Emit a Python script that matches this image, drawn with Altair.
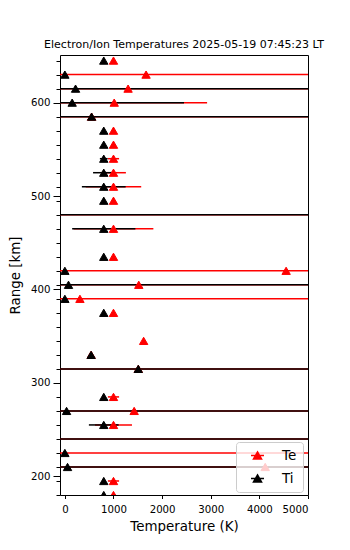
import altair as alt
import pandas as pd

# Range gates (km), top to bottom
ranges = [645, 630, 615, 600, 585, 570, 555, 540, 525, 510, 495, 480, 465, 450, 435, 420,
          405, 390, 375, 360, 345, 330, 315, 300, 285, 270, 255, 240, 225, 210, 195, 180]
# Electron temperature (K) and its error; off-chart values lie outside the x range
te = [1000, 1670, 1300, 1015, 550, 1000, 1000, 1000, 1000, 1000, 1000, 6000, 1000, None, 1000, 4550,
      1520, 310, 1000, None, 1620, 540, 1510, None, 1000, 1425, 1000, 6000, 6000, 4120, 1000, 1000]
te_err = [0, 12000, 12000, 1910, 12000, 0, 0, 115, 255, 570, 0, 12000, 820, None, 0, 12000,
          12000, 12000, 0, None, 0, 0, 12000, None, 115, 12000, 380, 12000, 12000, 12000, 115, 0]
# Ion temperature (K) and its error
ti = [800, 0, 220, 150, 550, 800, 800, 800, 800, 800, 800, 6000, 800, None, 800, 0,
      75, 0, 800, None, None, 540, 1510, None, 800, 35, 800, 6000, 0, 55, 800, 800]
ti_err = [0, 0, 12000, 2300, 12000, 0, 0, 80, 220, 450, 0, 12000, 650, None, 0, 0,
          12000, 0, 0, None, None, 0, 12000, None, 0, 12000, 306, 12000, 0, 12000, 0, 0]

series = ["Te", "Ti"]
colors = ["#ff0000", "#000000"]
x_ticks = [0, 1000, 2000, 3000, 4000, 5000]
y_major = [200, 300, 400, 500, 600]

rows = []
for name, vals, errs in (("Te", te, te_err), ("Ti", ti, ti_err)):
    for r, v, e in zip(ranges, vals, errs):
        rows.append({"range": r, "var": name, "value": v, "err": e})
df = pd.DataFrame(rows)

y_vals = sorted(set(ranges) | set(y_major))

xs = alt.Scale(domain=[-100, 5000], nice=False, zero=False)
ys = alt.Scale(domain=[180, 651], nice=False, zero=False)
cs = alt.Scale(domain=series, range=colors)

x_axis = alt.Axis(values=x_ticks, format="d", title="Temperature (K)", grid=False, domain=False,
                  tickSize=3.5, tickColor="black", labelFontSize=10.2, labelColor="black",
                  labelPadding=5.5, titleFontSize=13.4, titleFontWeight="normal", titleColor="black",
                  titleY=24, titleBaseline="top")
y_axis = alt.Axis(values=y_vals, format="d", title="Range [km]", grid=False, domain=False,
                  labelExpr="datum.value % 100 === 0 ? datum.label : ''",
                  tickSize={"condition": {"test": "datum.value % 100 === 0", "value": 7}, "value": 4},
                  tickColor="black", labelFontSize=10.2, labelColor="black", labelPadding=3,
                  titleFontSize=13.4, titleFontWeight="normal", titleColor="black",
                  titleX=-41, titleY=220, titleAlign="center", titleBaseline="alphabetic", titleAngle=270)

legend = alt.Legend(
    title=None, orient="none", legendX=176, legendY=387,
    symbolType="M-1,0L1,0M0,-0.55L0.62,0.55L-0.62,0.55Z", symbolSize=169, symbolStrokeWidth=1.5,
    labelFontSize=13.5, labelColor="black", labelOffset=17, padding=6, symbolOffset=8, rowPadding=8,
    fillColor="rgba(255,255,255,0.8)", strokeColor="#cccccc", cornerRadius=3,
)

base = alt.Chart(df)

bars = base.transform_filter(
    "isValid(datum.value) && isValid(datum.err) && datum.err > 0"
).transform_calculate(
    lo="datum.value - datum.err", hi="datum.value + datum.err"
).mark_rule(strokeWidth=1.5, clip=True).encode(
    x=alt.X("lo:Q", scale=xs, axis=x_axis),
    x2="hi:Q",
    y=alt.Y("range:Q", scale=ys, axis=y_axis),
    color=alt.Color("var:N", scale=cs, legend=legend),
)

points = base.transform_filter("isValid(datum.value)").mark_point(
    shape="triangle-up", filled=True, size=70, strokeWidth=1, opacity=1, clip=True
).encode(
    x=alt.X("value:Q", scale=xs, axis=x_axis),
    y=alt.Y("range:Q", scale=ys, axis=y_axis),
    color=alt.Color("var:N", scale=cs, legend=legend),
    stroke=alt.Stroke("var:N", scale=cs, legend=None),
)

chart = alt.layer(bars, points).properties(
    width=248, height=440,
    title=alt.TitleParams("Electron/Ion Temperatures 2025-05-19 07:45:23 LT", fontSize=11,
                          fontWeight="normal", anchor="middle", offset=5, color="black"),
    autosize=alt.AutoSizeParams(type="none"),
    padding={"left": 60, "top": 55, "right": 42, "bottom": 55},
).configure(font="DejaVu Sans").configure_view(stroke="black", strokeWidth=1)

chart.save("out.html", embed_options={"renderer": "svg", "actions": False})
